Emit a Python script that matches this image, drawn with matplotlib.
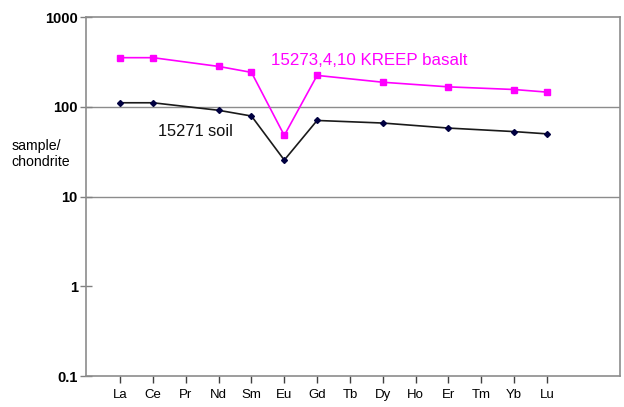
import matplotlib.pyplot as plt
import numpy as np

plt.rcParams['font.family'] = ['Liberation Sans', 'DejaVu Sans']

elements = ['La', 'Ce', 'Pr', 'Nd', 'Sm', 'Eu', 'Gd', 'Tb', 'Dy', 'Ho', 'Er', 'Tm', 'Yb', 'Lu']

# chondrite-normalised REE, None where not measured
kreep_basalt = [353, 353, None, 282, 242, 48, 224, None, 188, None, 167, None, 156, 146]
soil = [111, 111, None, 91.5, 79, 25.5, 70.5, None, 66, None, 58, None, 53, 50]

yticks = [0.1, 1, 10, 100, 1000]
ytick_labels = ['0.1', '1', '10', '100', '1000']


def present(values):
    idx = [i for i, v in enumerate(values) if v is not None]
    return np.array(idx), np.array([values[i] for i in idx])


fig = plt.figure(figsize=(6.24, 4.07), dpi=100)
ax = fig.add_axes([0.138, 0.076, 0.856, 0.882])

ax.set_yscale('log')
ax.set_ylim(0.1, 1000)
ax.set_xlim(-1.04, 15.24)

for y in [10, 100]:
    ax.axhline(y, color='#8c8c8c', lw=1.0, zorder=1)

x, y = present(kreep_basalt)
ax.plot(x, y, color='#ff00ff', lw=1.2, marker='s', ms=4.6, zorder=3)
x, y = present(soil)
ax.plot(x, y, color='#1a1a1a', lw=1.2, marker='D', ms=3,
        mfc='#000040', mec='#000040', zorder=3)

ax.text(4.6, 330, '15273,4,10 KREEP basalt', color='#ff00ff', fontsize=12.2,
        va='center', ha='left')
ax.text(1.15, 53, '15271 soil', color='#111111', fontsize=11.8, va='center', ha='left')
fig.text(0.019, 0.622, 'sample/\nchondrite', fontsize=10.2, va='center', ha='left',
         linespacing=1.15)

ax.set_yticks(yticks)
ax.set_yticklabels(ytick_labels, fontweight='bold', fontsize=10.5)
ax.yaxis.set_minor_locator(plt.NullLocator())
ax.tick_params(axis='y', direction='inout', length=8, color='#808080', width=1, pad=2)

ax.set_xticks(range(len(elements)))
ax.set_xticklabels(elements, fontsize=9.5)
ax.tick_params(axis='x', direction='out', length=5, color='#404040', width=1, pad=4)

for side in ['left', 'bottom', 'top', 'right']:
    ax.spines[side].set_color('#8c8c8c')
    ax.spines[side].set_linewidth(1.2)

fig.savefig('out.png', dpi=100, facecolor='white')
